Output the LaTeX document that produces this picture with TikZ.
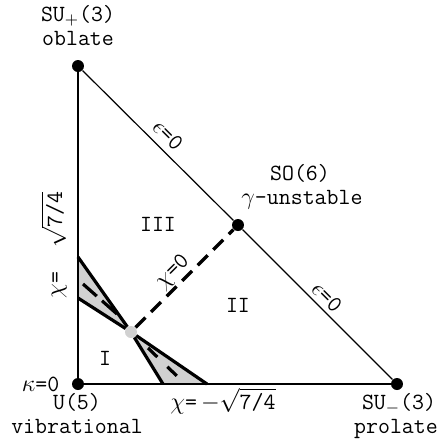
\documentclass[tikz,border=0pt]{standalone}
\usepackage{fontspec}
\usetikzlibrary{positioning}

\begin{document}
\begin{tikzpicture}[
    x=0.5pt, y=-0.5pt,
    every node/.style={font=\ttfamily\fontsize{11.6}{13}\selectfont, inner sep=0pt},
    vertex/.style={circle, fill=black, minimum size=6pt},
    critpt/.style={circle, fill=black!18, minimum size=6pt},
    edge/.style={line width=0.8pt},
    bold/.style={line width=1.6pt},
    lobe/.style={fill=black!18}
]
\useasboundingbox (0,0) rectangle (441,446);

% shaded lobes
\coordinate (c) at (131,332);
\coordinate (a1) at (78,257);
\coordinate (a2) at (78,298);
\coordinate (b1) at (163,384);
\coordinate (b2) at (207,384);
\fill[lobe] (c) -- (a1) -- (a2) -- cycle;
\fill[lobe] (c) -- (b1) -- (b2) -- cycle;

% limits
\node[vertex] (u5) at (78,384) {};
\node[vertex] (suplus) at (78,66) {};
\node[vertex] (suminus) at (397,384) {};
\node[vertex] (so6) at (238,225) {};
\draw[edge] (u5) -- (suplus);
\draw[edge] (u5) -- (suminus);
\draw[line width=0.6pt] (suplus) -- (so6) -- (suminus);

% critical point
\node[critpt] (crit) at (c) {};
\draw[bold] (crit) -- (a1);
\draw[bold] (crit) -- (a2);
\draw[bold] (crit) -- (b1);
\draw[bold] (crit) -- (b2);
\draw[bold, dash pattern=on 7pt off 4pt] (crit) -- (so6);
\coordinate (ua) at (117,314);
\coordinate (ub) at (83,284);
\coordinate (la) at (148,348);
\coordinate (lb) at (180,379);
\draw[bold, dash pattern=on 10pt off 3.5pt] (ua) -- (ub);
\draw[bold, dash pattern=on 6.5pt off 7pt] (la) -- (lb);

% vertex labels
\node[anchor=base] (suplusname) at (78,21) {SU$_+$(3)};
\node[anchor=base] (oblate) at (78,45) {oblate};
\node[anchor=base] (so6name) at (300,180) {SO(6)};
\node[anchor=base] (unstable) at (302,204) {$\gamma$-unstable};
\node[anchor=base] (u5name) at (77,409) {U(5)};
\node[anchor=base] (vibrational) at (77,433) {vibrational};
\node[anchor=base] (suminusname) at (399,409) {SU$_-$(3)};
\node[anchor=base] (prolate) at (396,433) {prolate};
\node (kappa) [left=6pt of u5] {$\kappa$=0};

% regions
\node (r3) at (158,224) {III};
\node (r2) at (238,305) {II};
\node (r1) at (105,358) {I};

% line labels
\node[rotate=-45] (eps1) at (168,135) {$\epsilon$=0};
\node[rotate=-45] (eps2) at (327,297) {$\epsilon$=0};
\node[rotate=45] (chi0) at (173,272) {$\chi$=0};
\node[rotate=90] (chiplus) at (54,245) {$\chi$= \ $\sqrt{\hbox{7/4}}$};
\node[anchor=base] (chiminus) at (223,409) {$\chi$=\,$-\sqrt{\hbox{7/4}}$};
\end{tikzpicture}
\end{document}
